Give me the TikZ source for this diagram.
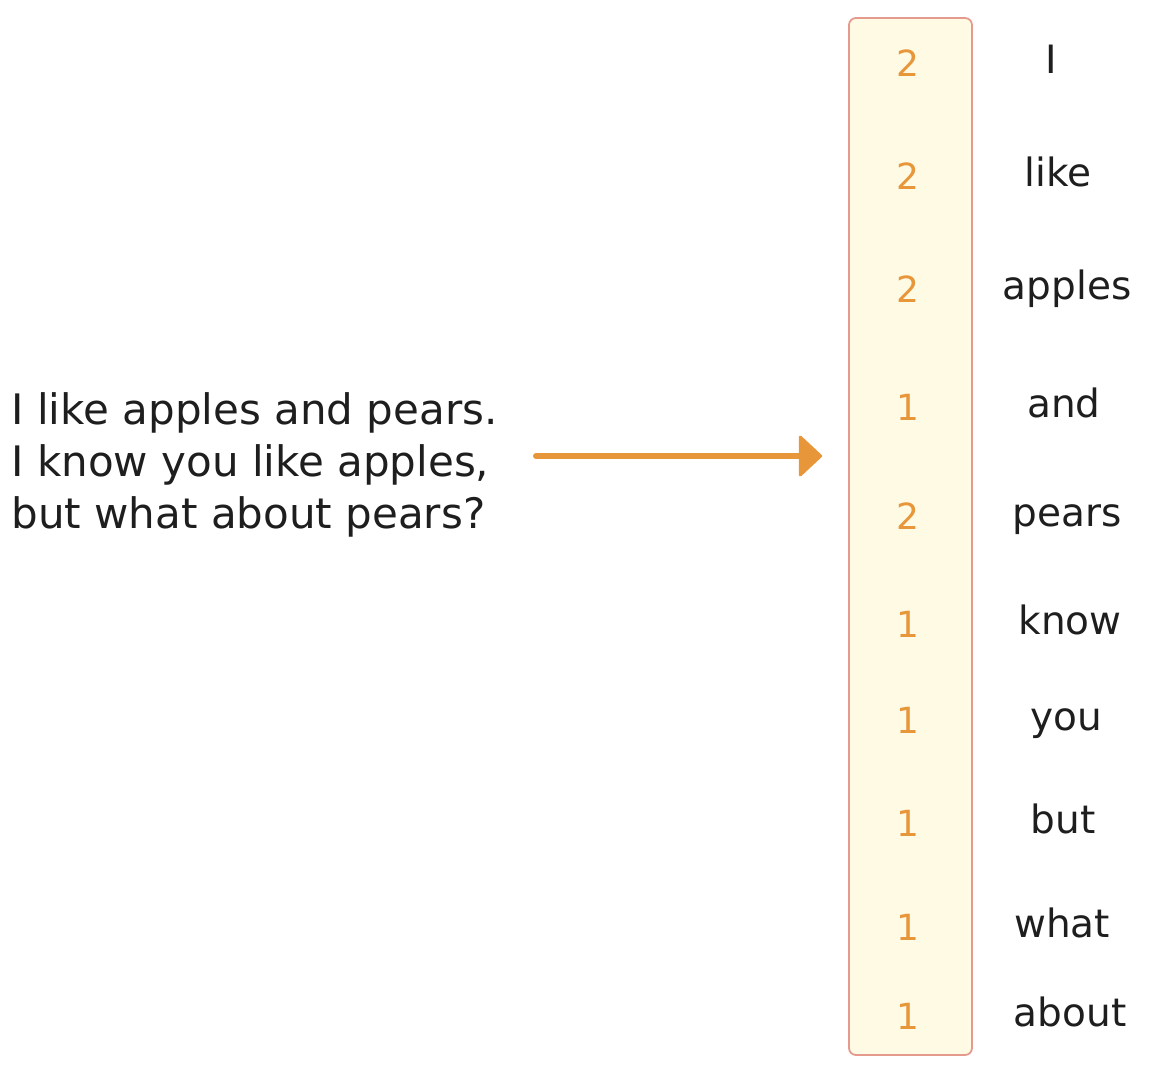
\documentclass[tikz,border=0pt]{standalone}
\usepackage{fontspec}
\setmainfont{DejaVu Sans}
\usepackage{tikz}
\usetikzlibrary{positioning,arrows.meta}

\definecolor{inkgray}{HTML}{1E1E1E}
\definecolor{countorange}{HTML}{E8963A}
\definecolor{vecborder}{HTML}{E59A8E}
\definecolor{vecfill}{HTML}{FFFAE4}

\begin{document}
\begin{tikzpicture}[x=1pt,y=-1pt,node distance=110pt,on grid]
        \tikzstyle{vector}=[draw=vecborder,line width=1.8pt,fill=vecfill,rounded corners=7pt,minimum width=123pt,minimum height=1037pt]
        \tikzstyle{count}=[text=countorange,font=\fontsize{36}{36}\selectfont,text height=26pt,text depth=0pt]
        \tikzstyle{word}=[text=inkgray,font=\fontsize{39}{39}\selectfont,text height=28pt,text depth=8pt]
        \tikzstyle{sentence}=[text=inkgray,align=left,anchor=west,font=\fontsize{42}{52}\selectfont]
        \useasboundingbox (0,0) rectangle (1166,1076);
        \node[vector] (vec) at (910.5,536.5) {};
        % counts in the vector
        \node[count] (c1) at (908,63) {2};
        \node[count] (c2) [below=113pt of c1] {2};
        \node[count] (c3) [below=113pt of c2] {2};
        \node[count] (c4) [below=118pt of c3] {1};
        \node[count] (c5) [below=109pt of c4] {2};
        \node[count] (c6) [below=108pt of c5] {1};
        \node[count] (c7) [below=96pt of c6] {1};
        \node[count] (c8) [below=103pt of c7] {1};
        \node[count] (c9) [below=104pt of c8] {1};
        \node[count] (c10) [below=89pt of c9] {1};
        % vocabulary
        \node[word] (w1) [right=143pt of c1] {I};
        \node[word] (w2) [right=150pt of c2] {like};
        \node[word] (w3) [right=159pt of c3] {apples};
        \node[word] (w4) [right=156pt of c4] {and};
        \node[word] (w5) [right=159pt of c5] {pears};
        \node[word] (w6) [right=162pt of c6] {know};
        \node[word] (w7) [right=158pt of c7] {you};
        \node[word] (w8) [right=155pt of c8] {but};
        \node[word] (w9) [right=154pt of c9] {what};
        \node[word] (w10) [right=162pt of c10] {about};
        % input text
        \node[sentence] (txt) at (8,465) {I like apples and pears.\\I know you like apples,\\but what about pears?};
        \coordinate (src) at (536,456);
        \draw[-{Triangle[length=24pt,width=44pt,line width=3pt,round]},draw=countorange,fill=countorange,line width=6pt,line cap=round,shorten >=26pt]
        (src) -- (vec.west |- src);
    \end{tikzpicture}
\end{document}
